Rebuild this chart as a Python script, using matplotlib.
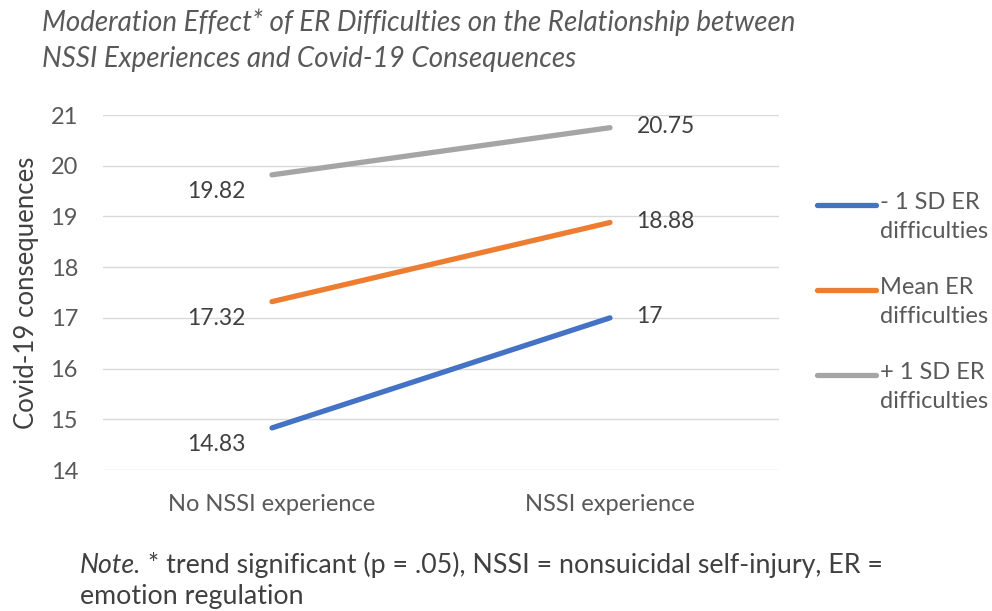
import matplotlib.pyplot as plt
from matplotlib.lines import Line2D

plt.rcParams['font.family'] = ['Lato', 'DejaVu Sans']

categories = ['No NSSI experience', 'NSSI experience']
low_sd = [14.83, 17]
mean_er = [17.32, 18.88]
high_sd = [19.82, 20.75]
series_names = ['- 1 SD ER\ndifficulties', 'Mean ER\ndifficulties', '+ 1 SD ER\ndifficulties']
label_texts = [['14.83', '17'], ['17.32', '18.88'], ['19.82', '20.75']]

colors = ['#4472C4', '#ED7D31', '#A5A5A5']
W, H = 992, 611

fig = plt.figure(figsize=(9.92, 6.11), dpi=100)
ax = fig.add_axes([103 / W, 1 - 470 / H, 676 / W, 355 / H])

x = [0, 1]
for vals, col, labs in zip([low_sd, mean_er, high_sd], colors, label_texts):
    ax.plot(x, vals, color=col, lw=3.8, solid_capstyle='round')
    ax.annotate(labs[0], (x[0], vals[0]), xytext=(-40, -12), textcoords='offset points',
                ha='center', va='center', fontsize=16.5, color='#404040')
    ax.annotate(labs[1], (x[1], vals[1]), xytext=(19, 1), textcoords='offset points',
                ha='left', va='center', fontsize=16.5, color='#404040')

ax.set_xlim(-0.5, 1.5)
ax.set_ylim(14, 21)
ax.set_yticks(range(14, 22))
ax.set_xticks(x)
ax.set_xticklabels(categories)
ax.tick_params(length=0, labelsize=17, labelcolor='#595959')
ax.tick_params(axis='x', pad=17)
ax.tick_params(axis='y', pad=18)
ax.grid(axis='y', color='#D9D9D9', lw=1)
ax.set_axisbelow(True)
for s in ax.spines.values():
    s.set_visible(False)
ax.set_ylabel('Covid-19 consequences', fontsize=18.5, color='#404040', labelpad=8)

# legend drawn by hand so the swatch sits on the first text line
for i, (name, col) in enumerate(zip(series_names, colors)):
    yy = 205 + 85 * i
    fig.add_artist(Line2D([817 / W, 876 / W], [1 - yy / H, 1 - yy / H], color=col, lw=3.8,
                          solid_capstyle='round', transform=fig.transFigure))
    fig.text(880 / W, 1 - (yy - 13) / H, name, fontsize=17, color='#595959', va='top',
             linespacing=1.45)

fig.text(42 / W, 1 - 8 / H, 'Moderation Effect* of ER Difficulties on the Relationship between\n'
         'NSSI Experiences and Covid-19 Consequences', fontsize=20, style='italic',
         color='#595959', va='top', linespacing=1.5)

note = fig.text(80 / W, 1 - 573 / H, 'Note.', fontsize=19.3, style='italic', color='#404040',
                va='baseline')
fig.text(80 / W, 1 - 604 / H, 'emotion regulation', fontsize=19.3, color='#404040', va='baseline')
ax.annotate(' * trend significant (p = .05), NSSI = nonsuicidal self-injury, ER =',
            xy=(1, 0), xycoords=note, va='bottom', ha='left', fontsize=19.3, color='#404040',
            annotation_clip=False)

fig.savefig('out.png', dpi=100)
